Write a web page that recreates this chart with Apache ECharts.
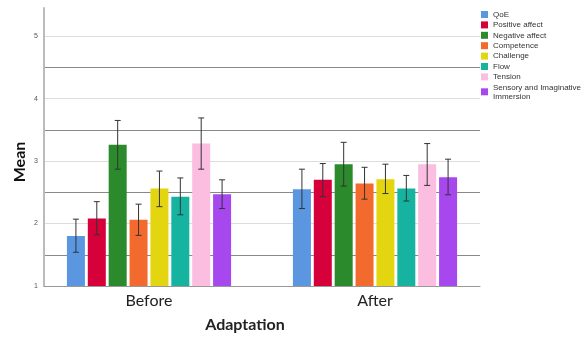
<!DOCTYPE html>
<html><head><meta charset="utf-8">
<script src="https://cdn.jsdelivr.net/npm/echarts@6/dist/echarts.min.js"></script>
<style>html,body{margin:0;padding:0;background:#fff}#c{width:585px;height:338px}</style>
</head><body><div id="c"></div>
<script>
const categories = ['Before', 'After'];
const seriesNames = ['QoE', 'Positive affect', 'Negative affect', 'Competence', 'Challenge', 'Flow', 'Tension', 'Sensory and Imaginative\nImmersion'];
const colors = ['#5a97e0', '#d6003b', '#2b8a2b', '#f36a2e', '#e3d611', '#16b4a0', '#fbbde0', '#a648ee'];
// means per series: [Before, After]
const means = [
  [1.80, 2.55],
  [2.08, 2.70],
  [3.26, 2.95],
  [2.06, 2.64],
  [2.56, 2.71],
  [2.43, 2.56],
  [3.28, 2.95],
  [2.47, 2.74]
];
// error bar lows and highs per series: [Before, After]
const lows = [
  [1.54, 2.24],
  [1.82, 2.43],
  [2.87, 2.60],
  [1.81, 2.39],
  [2.27, 2.48],
  [2.14, 2.36],
  [2.87, 2.61],
  [2.24, 2.46]
];
const highs = [
  [2.07, 2.87],
  [2.35, 2.96],
  [3.65, 3.30],
  [2.31, 2.90],
  [2.84, 2.95],
  [2.73, 2.77],
  [3.69, 3.28],
  [2.70, 3.03]
];

const BAR_W = 18;
const GAP_RATIO = 0.16;
const PITCH = BAR_W * (1 + GAP_RATIO);
const n = seriesNames.length;

const series = [];
seriesNames.forEach((name, i) => {
  series.push({
    name: name,
    type: 'bar',
    barWidth: BAR_W,
    barGap: (GAP_RATIO * 100) + '%',
    itemStyle: { color: colors[i] },
    data: categories.map((c, k) => [k, means[i][k]])
  });
});
seriesNames.forEach((name, i) => {
  const off = (i - (n - 1) / 2) * PITCH;
  series.push({
    type: 'custom',
    silent: true,
    z: 10,
    encode: { x: 0, y: [1, 2] },
    data: categories.map((c, k) => [k, lows[i][k], highs[i][k]]),
    renderItem: function (params, api) {
      const pHi = api.coord([api.value(0), api.value(2)]);
      const pLo = api.coord([api.value(0), api.value(1)]);
      const cx = pHi[0] + off;
      const cap = 3;
      const st = { stroke: '#333', lineWidth: 1 };
      return {
        type: 'group',
        children: [
          { type: 'line', shape: { x1: cx, y1: pHi[1], x2: cx, y2: pLo[1] }, style: st },
          { type: 'line', shape: { x1: cx - cap, y1: pHi[1], x2: cx + cap, y2: pHi[1] }, style: st },
          { type: 'line', shape: { x1: cx - cap, y1: pLo[1], x2: cx + cap, y2: pLo[1] }, style: st }
        ]
      };
    }
  });
});

const chart = echarts.init(document.getElementById('c'), null, { renderer: 'canvas' });
chart.setOption({
  animation: false,
  backgroundColor: '#fff',
  grid: { left: 44, right: 105, top: 8, bottom: 52, containLabel: false, outerBoundsMode: 'none' },
  legend: {
    orient: 'vertical',
    left: 481,
    top: 10,
    padding: 0,
    itemWidth: 7,
    itemHeight: 7,
    itemGap: 1.4,
    icon: 'rect',
    data: seriesNames,
    textStyle: { fontFamily: 'Liberation Sans', fontSize: 8, color: '#333', lineHeight: 9 }
  },
  xAxis: {
    type: 'value',
    min: -0.4646,
    max: 1.4646,
    name: 'Adaptation',
    nameLocation: 'middle',
    nameGap: 31,
    nameMoveOverlap: false,
    nameTextStyle: { fontFamily: 'Lato', fontWeight: 'bold', fontSize: 16, color: '#222', padding: [0, 34, 0, 0] },
    axisLine: { show: true, onZero: false, lineStyle: { color: '#999', width: 1 } },
    axisTick: { show: false },
    splitLine: { show: false },
    axisLabel: {
      customValues: [0, 1],
      margin: 7,
      fontFamily: 'Lato',
      fontSize: 16,
      color: '#222',
      formatter: function (v) { return categories[Math.round(v)]; }
    }
  },
  yAxis: {
    type: 'value',
    min: 1,
    max: 5.45,
    interval: 0.5,
    name: 'Mean',
    nameLocation: 'middle',
    nameGap: 16,
    nameMoveOverlap: false,
    nameTextStyle: { fontFamily: 'Lato', fontWeight: 'bold', fontSize: 16, color: '#111', padding: [0, 30, 0, 0] },
    axisLine: { show: true, onZero: false, lineStyle: { color: '#bbb', width: 2 } },
    axisTick: { show: false },
    axisLabel: {
      margin: 6,
      fontFamily: 'Liberation Sans',
      fontSize: 7,
      color: '#555',
      showMaxLabel: false,
      formatter: function (v) { return Math.abs(v - Math.round(v)) < 1e-6 ? String(Math.round(v)) : ''; }
    },
    splitLine: { show: true, showMaxLine: false, showMinLine: false, lineStyle: { color: ['#888', '#ddd'], width: 1 } }
  },
  series: series
});
</script>
</body></html>
